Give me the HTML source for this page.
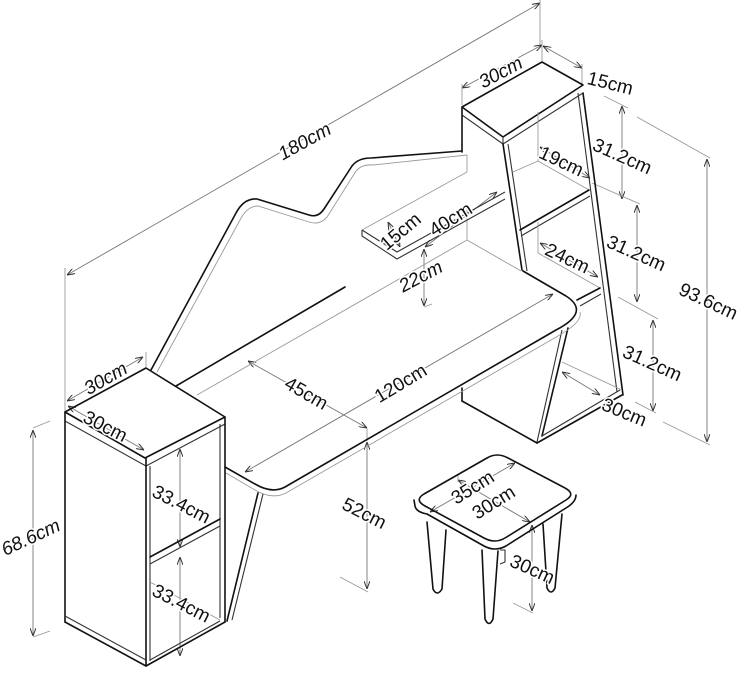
<!DOCTYPE html>
<html><head><meta charset="utf-8"><style>
html,body{margin:0;padding:0;background:#fff}
svg{display:block}
text{font-family:"Liberation Sans",sans-serif;font-size:19px;fill:#111;text-anchor:middle;dominant-baseline:central;paint-order:stroke;stroke:#fff;stroke-width:3px}
.i{font-style:italic}
.d{stroke:#111;stroke-width:1.6;fill:none;stroke-linejoin:round;stroke-linecap:round}
.k{stroke:#333;stroke-width:1.1;fill:none;stroke-linejoin:round}
.g{stroke:#9a9a9a;stroke-width:0.9;fill:none}
.a{stroke:#777;stroke-width:0.9;fill:none;marker-start:url(#ar);marker-end:url(#ar)}
</style></head><body>
<svg width="740" height="674" viewBox="0 0 740 674">
<defs>
<marker id="ar" viewBox="0 0 8 6" refX="8" refY="3" markerWidth="8" markerHeight="6" orient="auto-start-reverse" markerUnits="userSpaceOnUse"><path d="M0,0 L8,3 L0,6" fill="none" stroke="#333" stroke-width="1"/></marker>
</defs>

<!-- ===== dimension lines ===== -->
<line class="a" x1="67" y1="275" x2="540" y2="3"/>
<line class="g" x1="65" y1="268" x2="65" y2="388"/>
<line class="g" x1="540" y1="0" x2="540" y2="46"/>

<line class="a" x1="462" y1="88" x2="542" y2="45"/>
<line class="g" x1="462" y1="84" x2="462" y2="105"/>
<line class="g" x1="542" y1="40" x2="542" y2="61"/>
<line class="a" x1="543" y1="46" x2="582" y2="68"/>
<line class="g" x1="582" y1="64" x2="582" y2="84"/>

<line class="a" x1="622" y1="106" x2="622" y2="199"/>
<line class="g" x1="604" y1="96" x2="628" y2="108"/>
<line class="g" x1="592" y1="183" x2="640" y2="204"/>
<line class="a" x1="637" y1="205" x2="637" y2="302"/>
<line class="g" x1="618" y1="297" x2="658" y2="319"/>
<line class="a" x1="653" y1="320" x2="653" y2="411"/>
<line class="g" x1="635" y1="402" x2="656" y2="413"/>

<line class="a" x1="707" y1="159" x2="707" y2="442"/>
<line class="g" x1="637" y1="117" x2="710" y2="158"/>
<line class="g" x1="663" y1="422" x2="710" y2="445"/>

<line class="a" x1="540" y1="147" x2="590" y2="178"/>
<line class="a" x1="540" y1="243" x2="598" y2="277"/>
<line class="a" x1="562" y1="372" x2="600" y2="395"/>

<line class="a" x1="388" y1="222" x2="400" y2="247"/>
<line class="a" x1="425" y1="247" x2="497" y2="192"/>
<line class="a" x1="424" y1="249" x2="424" y2="306"/>
<line class="g" x1="424" y1="307" x2="432" y2="304"/>

<line class="a" x1="248" y1="361" x2="367" y2="428"/>
<line class="g" x1="367" y1="428" x2="367" y2="441"/>
<line class="a" x1="245" y1="472" x2="553" y2="294"/>
<line class="a" x1="367" y1="442" x2="367" y2="589"/>
<line class="g" x1="340" y1="577" x2="368" y2="592"/>

<line class="a" x1="67" y1="401" x2="143" y2="357"/>
<line class="g" x1="65" y1="388" x2="65" y2="411"/>
<line class="g" x1="146" y1="352" x2="146" y2="367"/>
<line class="a" x1="68" y1="406" x2="144" y2="450"/>

<line class="a" x1="33" y1="430" x2="33" y2="636"/>
<line class="g" x1="33" y1="428" x2="50" y2="421"/>
<line class="g" x1="33" y1="637" x2="50" y2="631"/>

<line class="a" x1="180" y1="449" x2="180" y2="547"/>
<line class="a" x1="180" y1="557" x2="180" y2="656"/>

<line class="a" x1="430" y1="512" x2="515" y2="463"/>
<line class="a" x1="458" y1="480" x2="530" y2="522"/>
<line class="g" x1="458" y1="474" x2="458" y2="482"/>
<line class="a" x1="532" y1="525" x2="532" y2="611"/>
<line class="g" x1="513" y1="603" x2="533" y2="613"/>

<!-- ===== backboard ===== -->
<path class="d" d="M151,370 L236,213 Q244,198 257,199 L309,215 Q318,218 324,209 L352,166 Q358,158 371,158 L462,151"/>
<path class="g" d="M157,372 L240,220 Q247,206 258,206 L309,222 Q322,226 329,214 L356,171 Q362,164 373,165 L467,155"/>
<line class="g" x1="467" y1="155" x2="467" y2="172"/>
<line class="g" x1="467" y1="205" x2="467" y2="240"/>

<!-- desk back lines -->
<line class="d" x1="176" y1="386" x2="345" y2="287"/>
<line class="g" x1="197" y1="395" x2="467" y2="240"/>
<line class="g" x1="467" y1="240" x2="521" y2="271"/>

<!-- small shelf -->
<line class="g" x1="362" y1="230" x2="467" y2="172"/>
<path class="k" d="M362,230 L397,252 L505,192"/>
<path class="k" d="M362,230 L362,236 L397,259 L505,199"/>

<!-- ===== tower ===== -->
<path class="d" d="M462,107 L542,62 L583,85 L503,137 Z"/>
<path class="k" d="M462,115 L503,144 L583,93"/>
<line class="k" x1="503" y1="137" x2="503" y2="144"/>
<line class="d" x1="462" y1="107" x2="462" y2="152"/>
<line class="d" x1="503" y1="144" x2="522" y2="270"/>
<line class="k" x1="508" y1="144" x2="527" y2="271"/>
<line class="d" x1="583" y1="93" x2="623" y2="395"/>
<line class="k" x1="578" y1="93" x2="617" y2="392"/>
<line class="g" x1="538" y1="112" x2="538" y2="161"/>
<line class="g" x1="513" y1="172" x2="538" y2="161"/>
<line class="g" x1="538" y1="161" x2="589" y2="190"/>
<line class="d" x1="520" y1="230" x2="589" y2="190"/>
<line class="k" x1="521" y1="236" x2="590" y2="196"/>
<line class="g" x1="538" y1="222" x2="538" y2="253"/>
<line class="g" x1="538" y1="253" x2="600" y2="288"/>
<line class="d" x1="577" y1="300" x2="600" y2="288"/>
<line class="k" x1="580" y1="306" x2="601" y2="294"/>
<line class="g" x1="562" y1="362" x2="622" y2="390"/>
<!-- Z leg and bottom -->
<line class="d" x1="568" y1="328" x2="542" y2="436"/>
<line class="k" x1="562" y1="330" x2="537" y2="442"/>
<line class="d" x1="462" y1="388" x2="462" y2="401"/>
<line class="d" x1="462" y1="401" x2="537" y2="443"/>
<line class="d" x1="537" y1="443" x2="622" y2="395"/>
<line class="k" x1="542" y1="436" x2="620" y2="390"/>

<!-- ===== desk top ===== -->
<path class="d" d="M225,467 L255,484 Q272,494 285,487 L556,330 Q591,312 566,296 L523,271"/>
<path class="g" d="M226,473 L255,490 Q272,500 286,493 L558,336 Q583,322 580,312"/>
<line class="d" x1="258" y1="493" x2="227" y2="621"/>
<line class="k" x1="263" y1="494" x2="232" y2="620"/>

<!-- ===== left cabinet ===== -->
<path class="d" d="M65,412 L146,368 L225,417 L145,458 Z"/>
<path class="k" d="M65,421 L146,466 L225,424"/>
<line class="d" x1="65" y1="412" x2="65" y2="622"/>
<line class="d" x1="225" y1="417" x2="225" y2="622"/>
<line class="k" x1="220" y1="424" x2="220" y2="618"/>
<line class="d" x1="146" y1="458" x2="146" y2="666"/>
<line class="k" x1="150" y1="466" x2="150" y2="661"/>
<path class="d" d="M65,622 L146,666 L225,622"/>
<line class="k" x1="65" y1="616" x2="146" y2="660"/>
<line class="k" x1="150" y1="660" x2="220" y2="621"/>
<line class="d" x1="150" y1="557" x2="220" y2="519"/>
<line class="k" x1="150" y1="564" x2="220" y2="526"/>
<line class="g" x1="150" y1="582" x2="220" y2="620"/>

<!-- ===== stool ===== -->
<path class="d" fill="#fff" d="M424,494 L487,458 Q497,452 508,458 L565,488 Q576,494 566,500 L505,538 Q495,544 484,538 L425,506 Q414,500 424,494 Z"/>
<path class="d" d="M414,500 L415,506 Q416,512 427,514 L484,546 Q495,552 506,546 L566,508 Q576,502 576,495"/>
<path class="d" d="M427,522 L433,589 Q437,597 442,589 L446,530"/>
<path class="d" d="M482,550 L485,619 Q489,628 493,619 L498,551"/>
<path class="k" d="M500,550 L505,550 L505,562 L500,564"/>
<path class="d" d="M543,524 L547,588 Q551,596 555,588 L562,514"/>

<!-- ===== labels ===== -->
<text class="i" transform="translate(305,142) rotate(-29)">180cm</text>
<text class="i" transform="translate(501,73) rotate(-28)">30cm</text>
<text transform="translate(610,84) rotate(14)">15cm</text>
<text transform="translate(622,157) rotate(24)">31.2cm</text>
<text transform="translate(561,162) rotate(25)">19cm</text>
<text transform="translate(636,254) rotate(24)">31.2cm</text>
<text transform="translate(567,259) rotate(25)">24cm</text>
<text transform="translate(652,364) rotate(24)">31.2cm</text>
<text transform="translate(624,413) rotate(22)">30cm</text>
<text transform="translate(708,302) rotate(25)">93.6cm</text>
<text transform="translate(401,232) rotate(-40)">15cm</text>
<text transform="translate(451,220) rotate(-32)">40cm</text>
<text class="i" transform="translate(421,277) rotate(-28)">22cm</text>
<text transform="translate(306,394) rotate(30)">45cm</text>
<text transform="translate(401,384) rotate(-31)">120cm</text>
<text class="i" transform="translate(106,379) rotate(-30)">30cm</text>
<text transform="translate(105,427) rotate(27)">30cm</text>
<text class="i" transform="translate(31,538) rotate(-25)">68.6cm</text>
<text transform="translate(181,505) rotate(27)">33.4cm</text>
<text transform="translate(181,604) rotate(27)">33.4cm</text>
<text transform="translate(364,514) rotate(27)">52cm</text>
<text transform="translate(473,488) rotate(-32)">35cm</text>
<text transform="translate(494,503) rotate(-32)">30cm</text>
<text transform="translate(532,570) rotate(24)">30cm</text>
</svg>
</body></html>
